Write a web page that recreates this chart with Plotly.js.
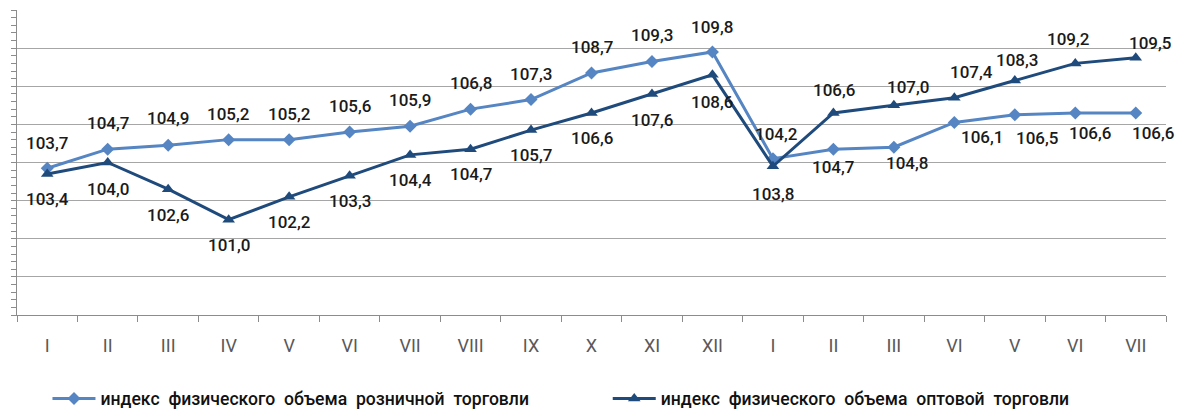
<!DOCTYPE html>
<html>
<head>
<meta charset="utf-8">
<script src="https://cdn.plot.ly/plotly-3.0.1.min.js"></script>
<style>html,body{margin:0;padding:0;background:#fff;}#chart{width:1187px;height:413px;}</style>
</head>
<body>
<div id="chart"></div>
<script>
const categories = ["I","II","III","IV","V","VI","VII","VIII","IX","X","XI","XII","I","II","III","VI","V","VI","VII"];
const retailName = "индекс  физического  объема  розничной  торговли";
const wholesaleName = "индекс  физического  объема  оптовой  торговли";
const retail = [103.7,104.7,104.9,105.2,105.2,105.6,105.9,106.8,107.3,108.7,109.3,109.8,104.2,104.7,104.8,106.1,106.5,106.6,106.6];
const wholesale = [103.4,104.0,102.6,101.0,102.2,103.3,104.4,104.7,105.7,106.6,107.6,108.6,103.8,106.6,107.0,107.4,108.3,109.2,109.5];

// label offsets (pixels) – styling only
const retailShift = [[0,25],[0,26],[0,27],[0,26],[0,26],[0,26],[0,26],[0,26],[0,26],[0,26],[0,26],[0,25],[4,25],[0,-18],[13,-16],[28,-15],[22,-23],[15,-20],[17,-20]];
const wholesaleShift = [[0,-25],[0,-26],[0,-26],[0,-25],[0,-25],[0,-25],[0,-25],[0,-25],[0,-25],[0,-25],[0,-26],[0,-27],[0,-28],[1,23],[14,18],[17,26],[2,21],[-7,24],[14,15]];

const xs = categories.map((c,i)=>i);
const fmt = v => v.toFixed(1).replace('.', ',');

const cRetail = '#5585c2';
const cWhole = '#1f4a7c';

const traces = [
  {x: xs, y: retail, name: retailName, type:'scatter', mode:'lines+markers', legend:'legend',
   line:{color:cRetail, width:3}, marker:{symbol:'diamond', size:10, color:cRetail}},
  {x: xs, y: wholesale, name: wholesaleName, type:'scatter', mode:'lines+markers', legend:'legend2',
   line:{color:cWhole, width:3}, marker:{symbol:'triangle-up', size:11, color:cWhole}}
];

const labelFont = {family:'Roboto, "Liberation Sans", sans-serif', size:17, color:'#1a1a1a', weight:500};
const annotations = [];
retail.forEach((v,i)=>annotations.push({x:i, y:v, xref:'x', yref:'y', text:fmt(v), showarrow:false, font:labelFont, xshift:retailShift[i][0], yshift:retailShift[i][1]}));
wholesale.forEach((v,i)=>annotations.push({x:i, y:v, xref:'x', yref:'y', text:fmt(v), showarrow:false, font:labelFont, xshift:wholesaleShift[i][0], yshift:wholesaleShift[i][1]}));

const axisGray = '#8c8c8c';
const legFont = {family:'Roboto, "Liberation Sans", sans-serif', size:17.6, color:'#111', weight:500};
const layout = {
  width:1187, height:413,
  margin:{l:17, r:21, t:10, b:98},
  paper_bgcolor:'#fff', plot_bgcolor:'#fff',
  showlegend:true,
  legend:{orientation:'h', xref:'container', yref:'container', x:0.040, y:0.035, xanchor:'left', yanchor:'middle',
          itemwidth:43, font:legFont, bgcolor:'rgba(0,0,0,0)'},
  legend2:{orientation:'h', xref:'container', yref:'container', x:0.512, y:0.035, xanchor:'left', yanchor:'middle',
          itemwidth:43, font:legFont, bgcolor:'rgba(0,0,0,0)'},
  xaxis:{range:[-0.5, 18.5], tickvals:xs, ticktext:categories, ticks:'', showgrid:false, zeroline:false,
         showline:true, linecolor:axisGray, linewidth:1, ticklabelstandoff:14,
         tickfont:{family:'Roboto, "Liberation Sans", sans-serif', size:18, color:'#595959'},
         minor:{tick0:-0.5, dtick:1, ticks:'outside', ticklen:6, tickcolor:axisGray, showgrid:false}},
  yaxis:{range:[96,112], dtick:2, tick0:96, showticklabels:false, showgrid:true, gridcolor:'#a6a6a6', gridwidth:1,
         zeroline:false, showline:true, linecolor:axisGray, linewidth:1,
         ticks:'outside', ticklen:5, tickcolor:axisGray,
         minor:{dtick:0.4, tick0:96, ticks:'outside', ticklen:5, tickcolor:axisGray, showgrid:false}},
  yaxis2:{overlaying:'y', side:'left', range:[96,112], dtick:2, tick0:96, showticklabels:false, showgrid:false,
          zeroline:false, showline:false, ticks:'inside', ticklen:6, tickcolor:axisGray,
          minor:{dtick:0.4, tick0:96, ticks:'inside', ticklen:6, tickcolor:axisGray, showgrid:false}},
  annotations: annotations
};

Plotly.newPlot('chart', traces, layout, {displayModeBar:false, staticPlot:true});
</script>
</body>
</html>
